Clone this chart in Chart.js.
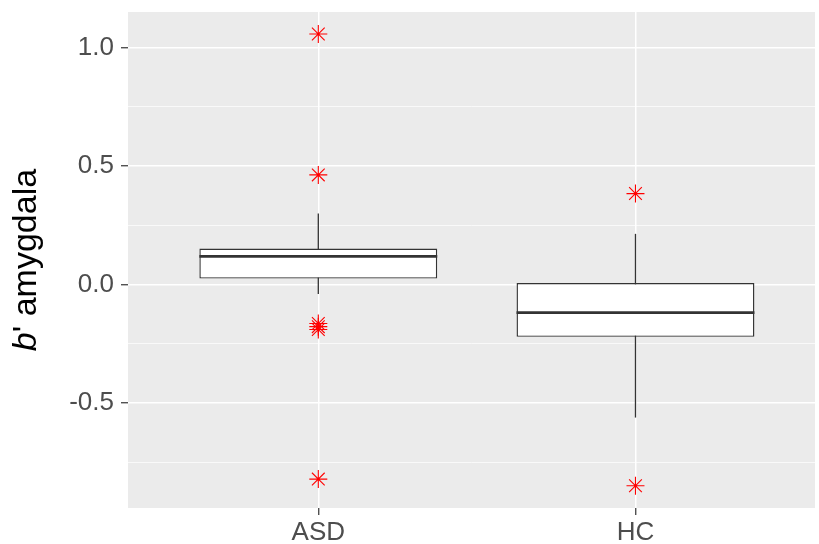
<!DOCTYPE html>
<html><head><meta charset="utf-8">
<script src="https://cdn.jsdelivr.net/npm/chart.js@4/dist/chart.umd.min.js"></script>
<style>html,body{margin:0;padding:0;background:#fff;overflow:hidden}canvas{display:block}</style>
</head><body><canvas id="c" width="819" height="544"></canvas>
<script>
const categories = ['ASD', 'HC'];
const whiskerLow = [-0.040, -0.562];
const q1 = [0.025, -0.221];
const median = [0.119, -0.119];
const q3 = [0.152, 0.006];
const whiskerHigh = [0.300, 0.214];
const outliersASD = [1.058, 0.463, -0.165, -0.178, -0.190, -0.822];
const outliersHC = [0.384, -0.850];
const yTicks = [-0.5, 0.0, 0.5, 1.0];
const yMinorTicks = [-0.75, -0.25, 0.25, 0.75];
const yLabel = ['b', "' amygdala"];

const FONT = "'Liberation Sans', Arial, Helvetica, sans-serif";
const boxWidth = 0.75;
const isMajor = v => yTicks.some(t => Math.abs(t - v) < 1e-9);
const noPad = () => ({left: 0, top: 0, right: 0, bottom: 0});

const datasets = [];
categories.forEach((c, i) => {
  datasets.push({type: 'scatter', showLine: true,
    data: [{x: i, y: whiskerLow[i]}, {x: i, y: whiskerHigh[i]}],
    borderColor: '#333333', borderWidth: 1.3, pointRadius: 0, order: 3});
  datasets.push({type: 'scatter', showLine: true,
    data: [{x: i - boxWidth / 2, y: median[i]}, {x: i + boxWidth / 2, y: median[i]}],
    borderColor: '#333333', borderWidth: 2.8, pointRadius: 0, borderCapStyle: 'butt', order: 1});
});
datasets.push({type: 'bar',
  data: categories.map((c, i) => ({x: i, y: [q1[i], q3[i]]})),
  backgroundColor: '#FFFFFF', borderColor: '#333333', borderWidth: 1.4, borderSkipped: false,
  barPercentage: boxWidth, categoryPercentage: 1, order: 2});
datasets.push({type: 'scatter',
  data: [...outliersASD.map(v => ({x: 0, y: v})), ...outliersHC.map(v => ({x: 1, y: v}))],
  pointStyle: 'star', pointRadius: 9, pointBorderColor: '#FF0000', borderColor: '#FF0000',
  pointBorderWidth: 1.1, order: 0});

const panelBg = {id: 'panelBg', beforeDraw(chart) {
  const {ctx, chartArea: a} = chart;
  ctx.save(); ctx.fillStyle = '#EBEBEB';
  ctx.fillRect(a.left, a.top, a.right - a.left, a.bottom - a.top);
  ctx.restore();
}};
const yTitle = {id: 'yTitle', afterDraw(chart) {
  const {ctx, chartArea: a} = chart;
  ctx.save();
  ctx.translate(36, (a.top + a.bottom) / 2);
  ctx.rotate(-Math.PI / 2);
  ctx.fillStyle = '#000000'; ctx.textBaseline = 'alphabetic'; ctx.textAlign = 'left';
  const f1 = 'italic 34px ' + FONT, f2 = '34px ' + FONT;
  ctx.font = f1; const w1 = ctx.measureText(yLabel[0]).width;
  ctx.font = f2; const w2 = ctx.measureText(yLabel[1]).width;
  const x0 = -(w1 + w2) / 2;
  ctx.font = f1; ctx.fillText(yLabel[0], x0, 0);
  ctx.font = f2; ctx.fillText(yLabel[1], x0 + w1, 0);
  ctx.restore();
}};

new Chart(document.getElementById('c'), {
  type: 'scatter',
  data: {datasets},
  options: {
    responsive: false, animation: false, devicePixelRatio: 1,
    layout: {autoPadding: false, padding: {top: 12, right: 4, left: 0, bottom: 0}},
    plugins: {legend: {display: false}, tooltip: {enabled: false}},
    scales: {
      x: {type: 'linear', min: -0.6, max: 1.566, offset: false,
        afterBuildTicks: s => { s.ticks = categories.map((c, i) => ({value: i})); },
        afterFit: s => { s.height = 36; s.paddingLeft = 0; s.paddingRight = 0; s.getPadding = noPad; },
        ticks: {callback: v => categories[v], font: {family: FONT, size: 26}, color: '#4D4D4D',
          padding: 2, autoSkip: false, maxRotation: 0},
        grid: {offset: false, color: '#FFFFFF', lineWidth: 1.5, tickColor: '#333333', tickLength: 7, tickWidth: 1.2},
        border: {display: false}},
      y: {type: 'linear', min: -0.944, max: 1.151,
        afterBuildTicks: s => { s.ticks = [...yMinorTicks, ...yTicks].sort((a, b) => a - b).map(v => ({value: v})); },
        afterFit: s => { s.width = 128; s.paddingTop = 0; s.paddingBottom = 0; s.getPadding = noPad; },
        ticks: {callback: v => isMajor(v) ? v.toFixed(1) : '', font: {family: FONT, size: 26}, color: '#4D4D4D',
          padding: 7, autoSkip: false},
        grid: {color: '#FFFFFF',
          lineWidth: c => isMajor(c.tick.value) ? 1.5 : 0.7,
          tickColor: c => isMajor(c.tick.value) ? '#333333' : 'rgba(0,0,0,0)',
          tickLength: 7, tickWidth: 1.2},
        border: {display: false}}
    }
  },
  plugins: [panelBg, yTitle]
});
</script></body></html>
